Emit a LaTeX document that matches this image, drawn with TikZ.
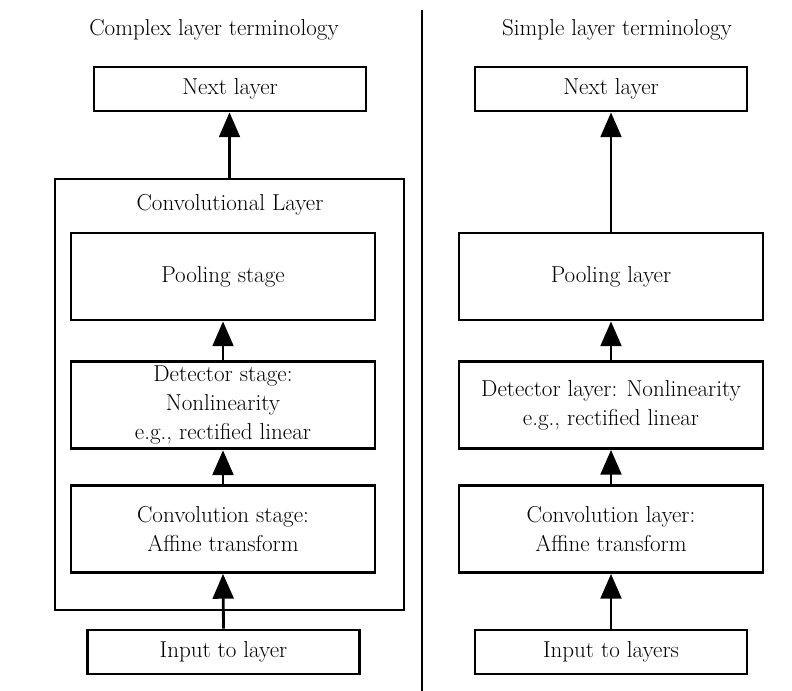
\documentclass[tikz,border=0pt]{standalone}
\usepackage{tikz}
\usetikzlibrary{arrows.meta, positioning}
\tikzset{
  textfont/.style={font=\fontsize{16.4}{20.6}\selectfont},
  smallbox/.style={
    rectangle, draw=black, line width=2pt, minimum width=6.8cm,
    minimum height=1.1cm, align=center, textfont
  },
  stagebox/.style={
    rectangle, draw=black, line width=2pt, minimum width=7.6cm,
    minimum height=2.175cm, align=center, textfont
  },
  outerbox/.style={
    rectangle, draw=black, line width=2pt, minimum width=8.725cm,
    minimum height=10.775cm
  },
  title/.style={textfont},
  arrow/.style={-{Triangle[length=0.62cm, width=0.52cm]}, line width=2pt}
}

\begin{document}
\begin{tikzpicture}
  \useasboundingbox (0,0) rectangle (19.8,-17.275);

  % left: complex terminology
  \node[title] (titleL) at (5.35,-0.75) {Complex layer terminology};
  \node[smallbox] (nextL) at (5.75,-2.225) {Next layer};
  \node[outerbox] (convlayer) at (5.7375,-9.8625) {};
  \node[title] (convlabel) at (5.75,-5.125) {Convolutional Layer};
  \node[stagebox] (poolL) at (5.575,-6.9125) {Pooling stage};
  \node[stagebox] (detL) at (5.575,-10.125)
    {Detector stage:\\Nonlinearity\\e.g., rectified linear};
  \node[stagebox] (convL) at (5.575,-13.225)
    {Convolution stage:\\Affine transform};
  \node[smallbox] (inL) at (5.5875,-16.3) {Input to layer};

  \draw[arrow] (inL.north) -- (convL.south);
  \draw[arrow] (convL.north) -- (detL.south);
  \draw[arrow] (detL.north) -- (poolL.south);
  \draw[arrow] (convlayer.north) -- (convlayer.north |- nextL.south);

  % divider
  \coordinate (divtop) at (10.55,-0.25);
  \coordinate (divbot) at (10.55,-17.275);
  \draw[line width=2pt] (divtop) -- (divbot);

  % right: simple terminology
  \node[title] (titleR) at (15.425,-0.75) {Simple layer terminology};
  \node[smallbox] (nextR) at (15.275,-2.225) {Next layer};
  \node[stagebox] (poolR) at (15.275,-6.9125) {Pooling layer};
  \node[stagebox] (detR) at (15.275,-10.125)
    {Detector layer: Nonlinearity\\e.g., rectified linear};
  \node[stagebox] (convR) at (15.275,-13.225)
    {Convolution layer:\\Affine transform};
  \node[smallbox] (inR) at (15.275,-16.3) {Input to layers};

  \draw[arrow] (inR.north) -- (convR.south);
  \draw[arrow] (convR.north) -- (detR.south);
  \draw[arrow] (detR.north) -- (poolR.south);
  \draw[arrow] (poolR.north) -- (nextR.south);
\end{tikzpicture}
\end{document}
